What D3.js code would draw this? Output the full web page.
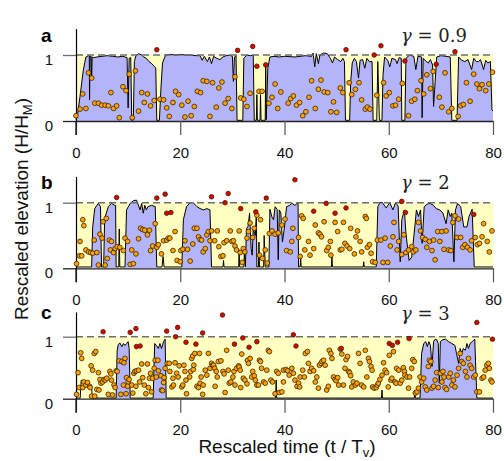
<!DOCTYPE html>
<html>
<head>
<meta charset="utf-8">
<script src="https://cdn.jsdelivr.net/npm/d3@7"></script>
<style>
  body { margin: 0; background: #fff; }
  svg { display: block; }
</style>
</head>
<body>
<svg id="chart"></svg>
<script>
// tick values and labels
const xTicks = [0, 20, 40, 60, 80]
const yTicks = [0, 1]
const gammas = ["0.9", "2", "3"]
const letters = ["a", "b", "c"]

// ---- panel a (gamma = 0.9) ----
const elevA = [[0,0.02],[0.3,0.1],[0.77,0.37],[1.4,0.77],[1.9,0.97],[2.4,0.99],[2.55,0.99],[2.6,0.32],[2.7,0.98],[2.9,0.98],[3.0,0.62],[3.1,0.97],[3.4,0.96],[4,0.97],[5,0.98],[6,0.99],[7,0.98],[8,0.97],[9,0.98],[9.8,0.96],[10.0,0.2],[10.2,0.95],[10.5,0.96],[10.7,0.01],[11.0,0.02],[11.2,0.9],[11.5,0.99],[12,1.02],[12.6,1.0],[13,0.97],[13.5,0.95],[14,0.9],[14.5,0.87],[15,0.83],[15.3,0.8],[15.5,0.01],[16.0,0.01],[16.3,0.5],[16.6,0.88],[17.2,1.0],[18,1.01],[19,1.0],[20,1.01],[21,1.0],[22,1.0],[23,0.99],[23.8,0.99],[24.2,0.92],[24.6,0.98],[25.2,0.9],[25.6,0.97],[26,0.87],[26.4,0.98],[27,0.95],[27.6,0.93],[28.2,0.97],[28.8,0.99],[29.4,1.0],[30,0.98],[30.2,0.6],[30.4,0.97],[30.7,0.99],[30.9,0.01],[32.0,0.01],[32.2,0.95],[32.8,1.0],[33.5,0.99],[34.0,1.0],[34.2,0.01],[34.6,0.01],[34.7,0.4],[34.8,0.01],[35.3,0.01],[35.4,0.4],[35.5,0.01],[36.3,0.01],[36.4,0.85],[36.5,0.02],[36.8,0.8],[37.2,0.97],[38,0.98],[39,0.97],[40,0.98],[42,0.97],[44,0.99],[45.2,0.98],[45.5,1.03],[45.8,0.82],[46.1,1.02],[46.5,0.87],[46.8,1.0],[47.5,1.03],[48.2,1.02],[48.8,0.95],[49.2,0.88],[49.6,0.97],[50.2,0.93],[50.8,0.9],[51.2,0.95],[51.5,0.9],[51.7,0.01],[52.5,0.01],[52.7,0.6],[53.0,0.88],[53.4,0.95],[53.8,0.9],[54.2,0.65],[54.5,0.92],[55.0,0.93],[55.4,0.8],[55.8,0.95],[56.3,0.9],[56.8,0.9],[57.0,0.01],[57.7,0.01],[57.9,0.9],[58.2,0.01],[58.7,0.01],[58.9,0.7],[59.2,0.97],[59.8,0.92],[60.2,0.82],[60.6,0.95],[61.3,0.93],[61.6,0.87],[62.0,0.96],[62.4,0.95],[62.5,0.01],[63.1,0.01],[63.3,0.95],[64,1.0],[64.8,0.98],[65.2,0.78],[65.6,0.98],[66.3,0.97],[66.4,0.05],[66.6,0.95],[67.2,0.9],[67.6,0.88],[68.0,0.93],[68.4,0.85],[68.6,0.22],[68.9,0.6],[69.2,0.97],[70,0.99],[71,0.98],[71.8,0.97],[72.1,0.01],[73.1,0.01],[73.4,0.97],[74,0.92],[74.6,0.9],[75.2,0.93],[75.9,0.78],[76.3,0.95],[76.8,0.9],[77.2,0.9],[77.6,0.93],[78.2,0.78],[78.6,0.92],[79.0,0.88],[79.5,0.9],[79.8,0.17],[80,0.15]]
const wetA = [[0,15.5],[16.0,30.9],[32.0,34.2],[36.3,51.7],[52.5,57.0],[58.7,62.5],[63.1,72.1],[73.1,80]]
const dotsA = [[0,.08],[.77,.18],[1.28,.41],[1.9,.19],[2.4,.73],[3.0,.65],[3.6,.27],[4.3,.27],[4.9,.24],[5.6,.24],[6.2,.23],[6.7,.43],[7.2,.19],[7.8,.23],[8.3,.05],[9.0,.52],[9.6,.46],[10.2,.71],[10.8,.05],[11.4,.76],[12.0,.15],[12.6,.43],[13.1,.28],[13.7,.41],[14.3,.23],[15.0,.31],[16.1,.33],[16.8,.32],[17.4,.2],[17.9,.07],[18.6,.28],[19.1,.45],[19.7,.40],[20.3,.24],[20.9,.06],[21.5,.30],[22.1,.08],[22.7,.22],[23.3,.45],[23.9,.43],[24.4,.61],[25.1,.6],[25.7,.07],[26.2,.58],[26.9,.21],[27.4,.5],[28,.59],[28.6,.27],[29.2,.34],[29.9,.19],[30.5,.67],[31.6,.35],[32.2,.33],[32.8,.22],[33.4,.42],[35.1,.45],[35.7,.45],[37.0,.27],[37.6,.36],[38.2,.56],[38.7,.19],[39.3,.44],[40.7,.27],[41.2,.34],[41.7,.38],[42.3,.24],[42.9,.28],[43.5,.08],[44.1,.14],[44.7,.36],[45.2,.61],[45.9,.19],[46.5,.48],[47.0,.62],[47.6,.44],[48.3,.43],[48.9,.14],[49.4,.29],[50.0,.13],[50.7,.5],[51.2,.43],[52.4,.58],[52.9,.40],[53.6,.48],[54.3,.58],[54.8,.32],[55.5,.18],[55.9,.21],[56.4,.18],[57.7,.39],[59.0,.58],[59.5,.38],[60.1,.43],[60.8,.23],[61.3,.24],[61.9,.33],[62.6,.57],[63.8,.08],[64.4,.30],[65.0,.33],[65.5,.46],[66.2,.61],[66.7,.41],[67.3,.70],[68.0,.49],[68.5,.75],[69.7,.36],[70.2,.21],[70.8,.73],[71.5,.14],[72.1,.19],[73.3,.07],[73.8,.23],[74.3,.25],[74.9,.58],[75.6,.30],[76.3,.71],[76.9,.56],[77.4,.49],[77.9,.55],[78.6,.46],[79.2,.56],[79.9,.74]]
const redA = [[15.5,1.08],[31.0,1.07],[33.9,1.13],[34.7,.83],[36.4,.85],[51.8,1.08],[57.2,1.0],[58.5,1.14],[63.1,.91],[69.1,.86],[72.7,1.05]]

// ---- panel b (gamma = 2) ----
const elevB = [[0,0.02],[3.0,0.02],[3.2,0.63],[3.6,0.91],[4.0,0.96],[4.3,0.99],[4.7,0.94],[4.9,0.02],[5.3,0.02],[5.5,0.76],[6.2,0.94],[6.8,0.99],[7.4,0.96],[7.6,0.96],[7.7,0.02],[8.2,0.02],[8.3,0.6],[8.4,0.02],[9.4,0.02],[9.7,0.89],[10.4,0.99],[11.0,1.03],[11.6,1.04],[12.3,0.89],[12.6,0.99],[12.9,0.84],[13.2,0.96],[13.5,0.89],[13.8,0.94],[14.5,0.96],[15.2,0.94],[15.5,0.02],[16.5,0.02],[16.7,0.18],[16.9,0.02],[20.3,0.02],[20.6,0.74],[21.2,0.94],[21.9,1.0],[22.5,1.0],[23.2,0.94],[23.8,0.91],[24.5,0.89],[25.1,0.91],[25.7,0.89],[26.0,0.02],[28.2,0.02],[28.3,0.12],[28.4,0.02],[31.2,0.02],[31.3,0.28],[31.4,0.02],[32.2,0.02],[32.3,0.23],[32.5,0.02],[32.7,0.6],[33.0,0.64],[33.3,0.84],[33.6,0.3],[33.8,0.2],[34.0,0.6],[34.4,0.5],[34.6,0.84],[34.7,0.02],[35.0,0.02],[35.1,0.4],[35.2,0.02],[36.0,0.02],[36.1,0.5],[36.3,0.02],[37.0,0.02],[37.2,0.9],[37.6,0.78],[37.9,0.74],[38.2,0.94],[38.6,0.9],[38.8,0.13],[39.0,0.89],[39.3,0.84],[39.6,0.4],[40.0,0.63],[40.4,0.94],[41.0,0.96],[41.4,0.99],[42.0,0.96],[42.6,1.0],[42.7,0.02],[43.0,0.02],[43.1,0.15],[43.2,0.02],[49.0,0.02],[49.1,0.2],[49.2,0.02],[55.1,0.02],[55.2,0.1],[55.3,0.02],[57.6,0.02],[57.9,0.94],[58.3,1.0],[58.8,1.0],[59.5,0.92],[60.2,1.0],[60.8,0.89],[61.3,1.0],[61.8,0.95],[62.2,0.1],[62.5,0.74],[63.0,0.89],[63.3,0.53],[63.9,0.12],[64.4,0.17],[65.0,0.63],[65.3,0.89],[65.7,0.79],[66.1,0.89],[66.4,0.38],[66.8,0.94],[67.4,0.98],[67.9,0.99],[68.6,0.96],[69.1,0.91],[69.8,0.89],[70.4,0.84],[71.0,0.68],[71.4,0.89],[71.8,0.79],[72.1,0.84],[72.5,0.1],[72.8,0.89],[73.2,0.99],[73.8,0.94],[74.4,0.63],[75.0,0.63],[75.4,0.79],[76.0,0.9],[76.4,0.02],[80,0.02]]
const wetB = [[3.0,4.9],[5.3,7.7],[9.4,15.5],[20.3,26.0],[32.5,34.7],[37.0,42.7],[57.6,76.4]]
const dotsB = [[.1,.07],[.64,.19],[1.1,.19],[.77,.41],[1.3,.74],[1.5,.65],[1.9,.28],[2.4,.25],[2.8,.24],[3.2,.23],[3.5,.43],[4.0,.24],[4.3,.05],[4.6,.52],[5.0,.46],[5.2,.71],[5.6,.05],[5.8,.76],[6.0,.15],[6.4,.43],[6.8,.41],[6.6,.28],[7.2,.24],[7.5,.30],[7.9,.33],[8.4,.32],[9.1,.27],[9.4,.46],[9.9,.41],[10.4,.06],[10.7,.28],[11.0,.07],[11.5,.22],[12.0,.45],[12.4,.61],[12.8,.59],[13.2,.58],[13.7,.51],[14.1,.58],[14.3,.27],[14.7,.34],[15.2,.68],[15.5,.32],[15.8,.36],[16.4,.22],[16.8,.42],[17.4,.43],[17.7,.46],[18.0,.46],[18.6,.27],[19.0,.56],[19.4,.12],[20.0,.10],[20.1,.27],[20.5,.29],[20.9,.42],[21.4,.29],[21.9,.11],[22.4,.37],[22.7,.61],[23.2,.61],[23.5,.48],[23.8,.44],[24.1,.43],[24.4,.25],[24.8,.30],[25.1,.51],[25.4,.56],[25.7,.42],[26.0,.57],[26.6,.42],[27.1,.57],[27.4,.33],[27.8,.18],[28.2,.19],[28.4,.39],[28.9,.42],[29.6,.57],[29.9,.41],[30.2,.42],[30.5,.34],[30.8,.28],[31.3,.57],[31.5,.24],[31.9,.09],[32.1,.30],[32.4,.25],[32.8,.46],[33.1,.56],[33.4,.69],[33.9,.47],[34.2,.61],[34.7,.81],[35.2,.2],[35.4,.74],[35.8,.15],[36.3,.28],[36.7,.08],[37.1,.53],[37.6,.57],[38.2,.52],[38.8,.54],[39.5,.66],[40.1,.75],[40.4,.27],[41.1,.25],[41.4,.41],[41.6,.61],[42.7,.47],[43.0,.18],[43.3,.8],[43.6,.76],[43.9,.28],[44.6,.41],[44.9,.2],[45.6,.30],[45.9,.66],[46.5,.54],[46.8,.52],[47.1,.48],[47.6,.71],[48.1,.27],[48.4,.32],[48.8,.41],[48.9,.20],[49.7,.70],[50.2,.56],[50.7,.28],[51.0,.29],[51.3,.70],[51.6,.38],[52.0,.34],[52.5,.30],[52.7,.61],[53.4,.22],[53.7,.48],[54.0,.57],[54.5,.41],[54.8,.25],[55.5,.79],[55.7,.76],[55.9,.32],[56.3,.36],[56.6,.23],[56.9,.10],[57.4,.09],[57.8,.43],[58.5,.43],[58.9,.09],[59.3,.46],[59.8,.09],[60.3,.34],[60.8,.48],[61.0,.70],[61.6,.28],[61.9,.41],[62.5,.21],[62.9,.51],[63.3,.24],[63.8,.28],[64.4,.33],[64.7,.25],[65.2,.28],[65.7,.70],[66.1,.57],[66.5,.47],[67.0,.44],[67.3,.32],[67.8,.41],[68.3,.27],[68.6,.43],[68.9,.13],[69.4,.56],[69.8,.41],[70.2,.56],[70.6,.29],[71.0,.57],[71.5,.28],[71.9,.27],[72.3,.70],[72.7,.80],[73.1,.47],[73.4,.75],[73.8,.47],[74.2,.32],[74.6,.36],[75.1,.32],[75.6,.28],[75.9,.42],[76.6,.47],[77.0,.36],[77.4,.38],[77.9,.48],[78.2,.68],[78.9,.41],[79.3,.25],[79.8,.57]]
const redB = [[7.8,1.08],[15.5,1.07],[17.1,1.13],[17.4,.84],[18.2,.85],[26.0,1.09],[28.6,1.0],[29.2,1.14],[31.6,.91],[34.5,.86],[36.5,1.07],[42.0,1.35],[45.6,.87],[48.0,.99],[49.7,.84],[51.8,.92],[62.5,1.02],[63.2,.85],[76.3,.82]]

// ---- panel c (gamma = 3) ----
const elevC = [[0,0.01],[0.8,0.01],[1.0,0.3],[1.3,0.28],[2.0,0.27],[2.6,0.22],[3.0,0.2],[3.1,0.01],[7.7,0.01],[7.9,0.78],[8.1,0.87],[8.4,0.9],[8.8,0.84],[9.1,0.89],[9.4,0.86],[9.7,0.89],[10.0,0.92],[10.2,0.81],[10.4,0.01],[14.8,0.01],[15.1,0.89],[15.4,0.86],[15.8,0.81],[16.1,0.89],[16.4,0.81],[16.8,0.92],[17.1,0.96],[17.3,0.01],[38.3,0.01],[38.4,0.3],[38.5,0.01],[58.6,0.01],[58.7,0.14],[58.8,0.01],[64.9,0.01],[65.0,0.14],[65.1,0.01],[66.0,0.01],[66.3,0.73],[66.7,0.89],[67.1,0.92],[67.4,0.84],[67.7,0.92],[68.0,0.86],[68.3,0.52],[68.6,0.92],[68.9,0.96],[69.2,0.95],[69.5,0.89],[69.7,0.25],[69.9,0.92],[70.3,0.95],[70.9,0.96],[71.5,0.92],[72.1,0.89],[72.7,0.86],[73.0,0.73],[73.4,0.57],[73.7,0.81],[74.0,0.73],[74.3,0.81],[74.7,0.78],[75.0,0.89],[75.3,0.81],[75.6,0.89],[76.0,0.92],[76.5,0.96],[76.9,0.01],[80,0.01]]
const wetC = [[7.7,10.4],[14.8,17.3],[66.0,76.9]]
const dotsC = [[.1,.07],[.6,.18],[.9,.74],[1.1,.65],[.4,.42],[1.3,.18],[1.5,.27],[1.9,.22],[2.2,.26],[2.6,.2],[2.7,.18],[3.0,.04],[3.6,.04],[2.9,.53],[3.2,.46],[3.5,.73],[3.8,.76],[4.3,.42],[4.6,.31],[4.8,.25],[4.0,.15],[4.4,.14],[5.1,.27],[5.4,.31],[5.6,.30],[5.9,.33],[6.2,.07],[6.5,.44],[6.7,.40],[6.8,.30],[7.0,.06],[7.3,.22],[7.7,.45],[7.5,.18],[7.9,.44],[8.3,.61],[8.6,.07],[8.8,.60],[9.1,.22],[9.2,.58],[9.4,.65],[9.7,.34],[10.0,.27],[10.2,.31],[9.9,.20],[9.6,.08],[10.7,.22],[10.9,.09],[11.1,.41],[11.3,.44],[11.6,.45],[12.0,.46],[11.5,.20],[12.2,.27],[12.6,.56],[12.8,.34],[13.1,.22],[13.4,.08],[13.7,.56],[13.9,.18],[14.1,.33],[14.3,.41],[14.5,.11],[14.7,.33],[15.0,.49],[15.2,.62],[15.7,.62],[15.4,.35],[15.8,.45],[16.3,.37],[16.4,.14],[16.6,.13],[16.9,.34],[17.1,.49],[16.8,.26],[17.5,.57],[17.9,.57],[18.0,.44],[18.4,.19],[18.7,.22],[18.6,.33],[19.0,.58],[19.3,.41],[19.6,.35],[19.8,.53],[20.3,.19],[20.5,.22],[20.7,.54],[20.9,.44],[21.1,.30],[21.2,.08],[21.8,.35],[22.0,.44],[22.2,.65],[22.4,.69],[22.5,.47],[22.6,.54],[22.8,.73],[23.2,.20],[23.5,.18],[23.7,.73],[23.8,.25],[24.0,.35],[24.3,.07],[24.4,.22],[24.8,.46],[25.1,.38],[25.4,.73],[25.7,.49],[26.0,.57],[26.2,.54],[26.4,.54],[26.6,.49],[26.7,.20],[26.9,.44],[27.1,.35],[27.3,.60],[27.8,.61],[28.2,.44],[28.4,.40],[28.6,.10],[28.9,.78],[29.2,.46],[29.4,.25],[29.7,.27],[30.1,.35],[30.3,.44],[30.5,.22],[30.8,.49],[31.2,.53],[31.3,.51],[31.5,.46],[31.6,.18],[31.8,.72],[32.1,.33],[32.4,.30],[32.8,.24],[32.9,.62],[33.1,.57],[33.4,.65],[33.7,.35],[33.9,.44],[34.2,.37],[34.4,.30],[34.7,.22],[35.0,.22],[35.2,.62],[35.4,.60],[35.6,.49],[36.0,.27],[36.3,.25],[36.6,.46],[36.9,.78],[37.1,.76],[37.4,.30],[37.7,.27],[38.2,.08],[38.5,.44],[38.8,.41],[39.0,.10],[39.5,.11],[39.8,.46],[39.8,.27],[40.3,.47],[40.6,.45],[40.9,.38],[41.4,.49],[41.7,.41],[42.0,.30],[42.4,.20],[42.7,.25],[42.9,.19],[43.0,.35],[43.5,.46],[43.8,.35],[44.0,.73],[44.4,.76],[44.6,.57],[44.9,.44],[45.2,.49],[45.6,.45],[45.9,.27],[46.2,.35],[46.5,.17],[46.7,.54],[47.0,.57],[47.2,.60],[47.5,.62],[47.8,.54],[48.1,.14],[48.4,.20],[48.6,.78],[48.9,.73],[49.1,.65],[49.4,.35],[49.7,.31],[49.9,.29],[50.2,.34],[50.4,.22],[50.7,.80],[51.0,.72],[51.3,.22],[51.6,.49],[51.8,.63],[52.1,.68],[52.3,.44],[52.5,.42],[52.7,.37],[52.9,.19],[53.2,.27],[53.6,.22],[53.9,.25],[54.2,.73],[54.5,.57],[54.8,.22],[55.2,.19],[55.5,.78],[55.8,.35],[56.1,.65],[56.3,.60],[56.6,.52],[56.8,.46],[56.9,.19],[57.2,.17],[57.6,.18],[57.8,.22],[58.0,.25],[58.3,.31],[58.7,.38],[59.0,.58],[59.3,.46],[59.6,.42],[59.9,.19],[60.1,.70],[60.4,.30],[60.6,.33],[60.9,.76],[61.2,.27],[61.4,.25],[61.5,.49],[61.9,.46],[62.2,.25],[62.5,.30],[62.8,.50],[63.0,.44],[63.1,.38],[63.5,.35],[63.8,.17],[64.0,.35],[64.4,.49],[64.6,.63],[64.9,.60],[65.1,.09],[65.4,.11],[65.7,.17],[66.0,.35],[66.3,.27],[66.7,.33],[67.0,.19],[67.3,.14],[67.6,.52],[67.8,.62],[68.1,.60],[68.3,.17],[68.6,.20],[68.9,.30],[69.2,.42],[69.5,.18],[69.9,.41],[70.2,.27],[70.4,.44],[70.6,.35],[70.8,.18],[71.1,.15],[71.5,.35],[71.8,.41],[72.1,.22],[72.4,.30],[72.7,.19],[73.1,.38],[73.4,.49],[73.7,.73],[74.0,.60],[74.3,.57],[74.7,.44],[75.0,.35],[75.3,.65],[75.6,.54],[75.9,.49],[76.3,.35],[76.6,.38],[76.9,.11],[77.4,.11],[77.9,.33],[78.2,.35],[78.5,.46],[78.8,.54],[79.1,.57],[79.3,.49],[79.6,.30],[79.8,.27]]
const redC = [[5.2,1.08],[10.4,1.07],[11.5,1.13],[11.6,.84],[12.3,.85],[17.4,1.09],[19.1,1.0],[19.5,1.15],[21.1,.91],[23.0,.88],[24.3,1.06],[28.1,1.35],[30.4,.88],[32.0,.98],[33.2,.83],[34.7,.92],[41.7,1.03],[42.2,.85],[50.9,.81],[60.1,.89],[60.7,.86],[61.7,.91],[63.9,.97],[76.9,1.23],[79.9,.96]]

// layout of the three stacked panels (baseline pixel and pixels per unit)
const panels = [
  { elev: elevA, wet: wetA, dots: dotsA, red: redA, y0: 121, unit: 66 },
  { elev: elevB, wet: wetB, dots: dotsB, red: redB, y0: 268.3, unit: 65.6 },
  { elev: elevC, wet: wetC, dots: dotsC, red: redC, y0: 398.7, unit: 62 }
]

var width = 504, height = 461
var sans = "'Liberation Sans', Arial, Helvetica, sans-serif"

var svg = d3.select("#chart")
    .attr("width", width)
    .attr("height", height)

var x = d3.scaleLinear()
    .domain([0, 80])
    .range([76, 493])

panels.forEach((p, i) => {
    var y = d3.scaleLinear()
        .domain([0, 1.4])
        .range([p.y0, p.y0 - 1.4 * p.unit])

    var g = svg.append("g")

    // yellow background of the reach
    g.append("rect")
        .attr("x", x(0))
        .attr("y", y(1))
        .attr("width", x(80) - x(0))
        .attr("height", y(0) - y(1))
        .attr("fill", "#ffffc2")

    // blue fill restricted to the wet intervals
    var clip = g.append("clipPath").attr("id", "wet" + i)
    clip.selectAll("rect")
        .data(p.wet)
        .join("rect")
          .attr("x", d => x(d[0]))
          .attr("width", d => x(d[1]) - x(d[0]))
          .attr("y", y(1.4))
          .attr("height", y(0) - y(1.4))

    g.append("path")
        .datum(p.elev)
        .attr("clip-path", "url(#wet" + i + ")")
        .attr("fill", "#b4b4fa")
        .attr("d", d3.area().x(d => x(d[0])).y0(y(0)).y1(d => y(d[1])))

    g.append("path")
        .datum(p.elev)
        .attr("fill", "none")
        .attr("stroke", "#000")
        .attr("stroke-width", 1)
        .attr("stroke-linejoin", "round")
        .attr("d", d3.line().x(d => x(d[0])).y(d => y(d[1])))

    // dashed reference at H = H_M
    g.append("line")
        .attr("x1", x(0)).attr("x2", x(80))
        .attr("y1", y(1)).attr("y2", y(1))
        .attr("stroke", "#6e6e6e")
        .attr("stroke-width", 1.4)
        .attr("stroke-dasharray", "7,4")

    // x axis
    var xAxis = g.append("g")
        .attr("transform", `translate(0,${y(0)})`)
        .call(d3.axisBottom(x).tickValues(xTicks).tickSize(14).tickSizeOuter(0).tickPadding(12))
    xAxis.select(".domain").attr("stroke", "#222").attr("stroke-width", 1.3)
    xAxis.selectAll(".tick line").attr("stroke", "#555").attr("stroke-width", 1.2)
    xAxis.selectAll("text")
        .attr("font-family", sans)
        .attr("font-size", 15)
        .attr("fill", "#111")

    // y axis
    var yAxis = g.append("g")
        .attr("transform", `translate(${x(0)},0)`)
        .call(d3.axisLeft(y).tickValues(yTicks).tickSize(13).tickSizeOuter(0).tickPadding(10).tickFormat(d3.format("d")))
    yAxis.select(".domain").attr("stroke", "#000").attr("stroke-width", 1.2)
    yAxis.selectAll(".tick line")
        .attr("stroke", d => d === 1 ? "#6e6e6e" : "#222")
        .attr("stroke-width", 1.3)
    yAxis.selectAll("text")
        .attr("font-family", sans)
        .attr("font-size", 15)
        .attr("fill", "#111")
        .attr("dy", "0.64em")

    // axis line continues down to the tick at t = 0
    g.append("line")
        .attr("x1", x(0)).attr("x2", x(0))
        .attr("y1", y(0)).attr("y2", y(0) + 14)
        .attr("stroke", "#000")
        .attr("stroke-width", 1.2)

    // points
    var pts = g.append("g").attr("stroke", "#3a2500").attr("stroke-width", 0.8)
    pts.selectAll("circle.o")
        .data(p.dots)
        .join("circle")
          .attr("class", "o")
          .attr("cx", d => x(d[0]))
          .attr("cy", d => y(d[1]))
          .attr("r", 2.4)
          .attr("fill", "#ffa200")
    pts.selectAll("circle.r")
        .data(p.red)
        .join("circle")
          .attr("class", "r")
          .attr("cx", d => x(d[0]))
          .attr("cy", d => y(d[1]))
          .attr("r", 2.3)
          .attr("fill", "#e00000")

    // panel letter
    g.append("text")
        .attr("x", 41)
        .attr("y", p.y0 - 79.5)
        .attr("font-family", sans)
        .attr("font-weight", "bold")
        .attr("font-size", 19)
        .text(letters[i])

    // gamma label
    var gl = g.append("text")
        .attr("x", 401)
        .attr("y", p.y0 - 79)
        .attr("font-family", "'DejaVu Serif', 'Liberation Serif', serif")
        .attr("font-size", 18)
        .attr("fill", "#222")
    gl.append("tspan").attr("font-style", "italic").text("γ")
    gl.append("tspan").text(" = " + gammas[i])
})

// axis titles
var xl = svg.append("text")
    .attr("x", 287)
    .attr("y", 453)
    .attr("text-anchor", "middle")
    .attr("font-family", sans)
    .attr("font-size", 19)
    .attr("fill", "#111")
xl.append("tspan").text("Rescaled time (t / T")
xl.append("tspan").attr("font-size", 13).attr("dy", 4).text("v")
xl.append("tspan").attr("dy", -4).text(")")

var yl = svg.append("text")
    .attr("transform", "translate(28,209) rotate(-90)")
    .attr("text-anchor", "middle")
    .attr("font-family", sans)
    .attr("font-size", 19)
    .attr("fill", "#111")
yl.append("tspan").text("Rescaled elevation (H/H")
yl.append("tspan").attr("font-size", 13).attr("dy", 4).text("M")
yl.append("tspan").attr("dy", -4).text(")")
</script>
</body>
</html>
